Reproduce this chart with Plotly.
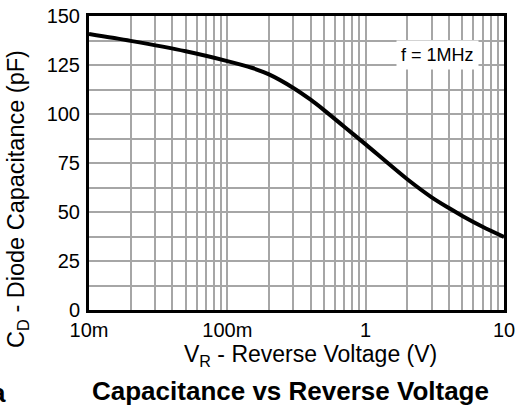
import plotly.graph_objects as go

voltage = [0.01, 0.02, 0.05, 0.1, 0.15, 0.2, 0.3, 0.4, 0.5, 0.7, 1, 2, 3, 4, 5, 7, 10]
capacitance = [140.8, 137.3, 132, 127, 123.6, 120.2, 113.3, 107.3, 102, 93.5, 84.5, 66.7, 57.5, 52, 48, 42.5, 37.3]

x_major = [0.01, 0.1, 1, 10]
x_labels = ["10m", "100m", "1", "10"]
x_minor = [m * d for d in (0.01, 0.1, 1) for m in range(2, 10)]
y_major = [0, 25, 50, 75, 100, 125, 150]
y_minor = [12.5, 37.5, 62.5, 87.5, 112.5, 137.5]

FONT = "Liberation Sans, Arial, sans-serif"
GRID = "#a6a6a6"

# plot-area geometry in pixels (for placing texts)
W, H = 519, 408
L, R, T, B = 89, 15, 16, 98
PW, PH = W - L - R, H - T - B

def px(x):
    return (x - L) / PW

def py(y):
    return (H - B - y) / PH

fig = go.Figure()
fig.add_trace(go.Scatter(x=voltage, y=capacitance, mode="lines",
                         line=dict(color="black", width=4, shape="spline", smoothing=0.8),
                         showlegend=False, hoverinfo="skip"))

fig.update_layout(
    width=W, height=H,
    margin=dict(l=L, r=R, t=T, b=B),
    paper_bgcolor="white", plot_bgcolor="white",
    font=dict(family=FONT, size=20, color="black"),
    xaxis=dict(type="log", range=[-2, 1], tickvals=x_major, ticktext=x_labels,
               showgrid=True, gridcolor=GRID, gridwidth=1.5,
               minor=dict(tickvals=x_minor, showgrid=True, gridcolor=GRID, gridwidth=1.5, ticks=""),
               showline=True, linecolor="black", linewidth=3, mirror=True,
               ticks="", zeroline=False, ticklabelstandoff=0, automargin=False),
    yaxis=dict(range=[0, 150], tickvals=y_major,
               showgrid=True, gridcolor=GRID, gridwidth=1.5,
               minor=dict(tickvals=y_minor, showgrid=True, gridcolor=GRID, gridwidth=1.5, ticks=""),
               showline=True, linecolor="black", linewidth=3, mirror=True,
               ticks="", zeroline=False, ticklabelstandoff=2, automargin=False),
    annotations=[
        dict(x=px(437), y=py(55), xref="paper", yref="paper", text="f = 1MHz", showarrow=False,
             bgcolor="white", font=dict(size=18), xanchor="center", yanchor="middle",
             borderpad=4),
        dict(x=px(310), y=py(355), xref="paper", yref="paper",
             text="V<sub>R</sub> - Reverse Voltage (V)", showarrow=False,
             font=dict(size=23), xanchor="center", yanchor="middle"),
        dict(x=px(17), y=py(199), xref="paper", yref="paper",
             text="C<sub>D</sub> - Diode Capacitance (pF)", showarrow=False, textangle=-90,
             font=dict(size=23.5), xanchor="center", yanchor="middle"),
        dict(x=px(290), y=py(391), xref="paper", yref="paper",
             text="<b>Capacitance vs Reverse Voltage</b>", showarrow=False,
             font=dict(size=26), xanchor="center", yanchor="middle"),
        dict(x=px(8), y=py(393), xref="paper", yref="paper", text="<b>a</b>", showarrow=False,
             font=dict(size=26), xanchor="right", yanchor="middle"),
    ],
)
fig.write_html("out.html", config={"displayModeBar": False},
               post_script="document.body.style.margin='0';")
